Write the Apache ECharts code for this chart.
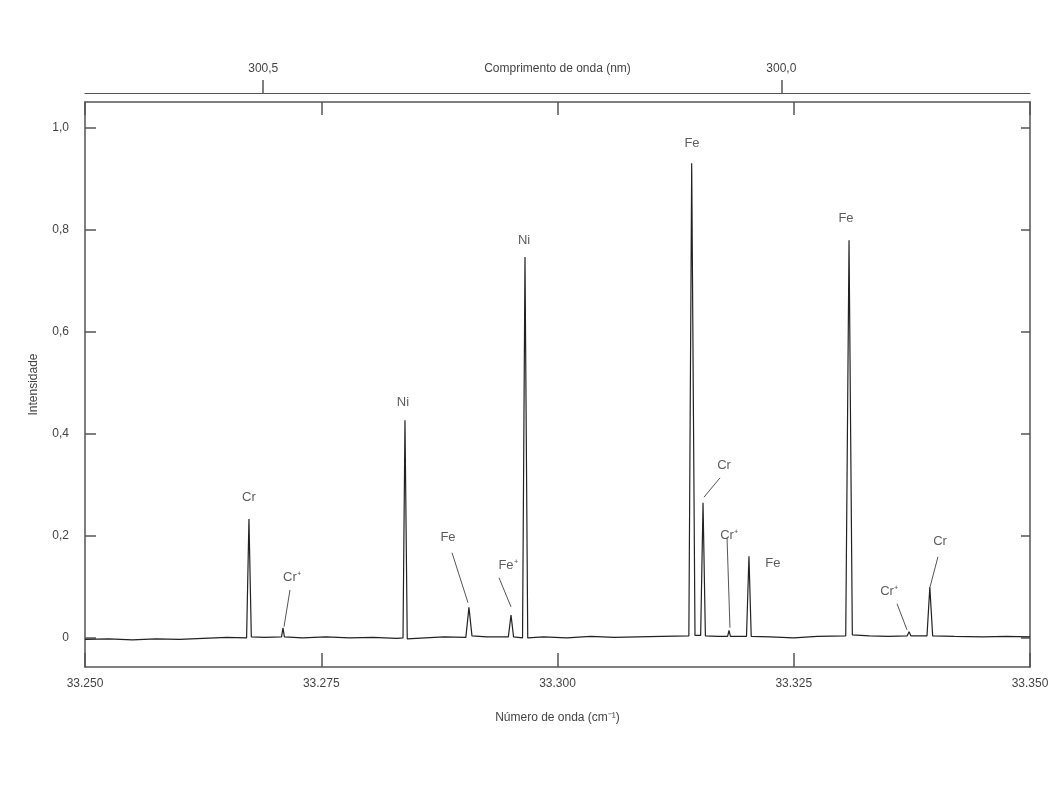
<!DOCTYPE html>
<html>
<head>
<meta charset="utf-8">
<script src="https://cdn.jsdelivr.net/npm/echarts@6/dist/echarts.min.js"></script>
<style>html,body{margin:0;padding:0;background:#fff}#c{width:1064px;height:792px}</style>
</head>
<body>
<div id="c"></div>
<script>
// Spectrum: wavenumber (cm^-1) and relative intensity
const wavenumber = [33250.0,33252.5,33255.0,33257.5,33260.0,33262.5,33265.0,33267.1,33267.35,33267.6,33269.0,33270.8,33270.95,33271.1,33273.0,33275.5,33278.0,33280.5,33283.0,33283.65,33283.86,33284.1,33286.0,33288.0,33290.3,33290.63,33290.95,33292.5,33294.8,33295.08,33295.35,33296.3,33296.56,33296.85,33298.5,33301.0,33303.5,33306.0,33308.5,33311.0,33313.9,33314.2,33314.55,33315.15,33315.4,33315.65,33317.0,33318.0,33318.15,33318.3,33320.0,33320.26,33320.5,33322.5,33325.0,33327.5,33330.5,33330.85,33331.2,33333.0,33335.0,33337.0,33337.2,33337.4,33339.1,33339.4,33339.7,33342.0,33345.0,33347.5,33350.0];
const intensity = [-0.003,-0.002,-0.004,-0.002,-0.003,-0.001,0.001,0.000,0.233,0.002,0.001,0.002,0.020,0.002,0.000,0.002,0.000,0.001,-0.001,0.000,0.427,-0.002,0.000,0.002,0.001,0.060,0.004,0.002,0.002,0.045,0.002,0.000,0.747,0.000,0.002,0.000,0.003,0.001,0.002,0.003,0.004,0.931,0.005,0.005,0.265,0.004,0.003,0.003,0.015,0.003,0.003,0.160,0.003,0.002,0.000,0.003,0.004,0.780,0.006,0.004,0.003,0.004,0.012,0.004,0.004,0.100,0.004,0.003,0.002,0.003,0.002];

// Peak labels: text, wavenumber, intensity
const labelText = ["Cr","Cr⁺","Ni","Fe","Fe⁺","Ni","Fe","Cr","Cr⁺","Fe","Fe","Cr⁺","Cr"];
const labelX = [33267.35,33271.9,33283.65,33288.41,33294.76,33296.46,33314.23,33317.62,33318.15,33322.8,33330.53,33335.08,33340.48];
const labelY = [0.276,0.118,0.461,0.198,0.143,0.78,0.97,0.339,0.202,0.147,0.823,0.092,0.19];

// Leader lines: start (x,y) -> end (x,y)
const leaderX1 = [33271.69,33288.84,33293.81,33317.2,33317.94,33335.93,33340.26];
const leaderY1 = [0.094,0.167,0.118,0.314,0.196,0.067,0.159];
const leaderX2 = [33271.06,33290.53,33295.08,33315.5,33318.25,33336.98,33339.42];
const leaderY2 = [0.022,0.069,0.061,0.276,0.020,0.016,0.100];

const yTicks = [0,0.2,0.4,0.6,0.8,1.0];
const wavelengthTicks = [300.5,300.0];

const FONT = 'Liberation Sans, Arial, sans-serif';
const TXT = '#444';
const AX = '#555';

const spectrum = wavenumber.map((x,i)=>[x,intensity[i]]);
const labels = labelText.map((t,i)=>[labelX[i],labelY[i],t]);
const leaders = leaderX1.map((x,i)=>[{coord:[x,leaderY1[i]]},{coord:[leaderX2[i],leaderY2[i]]}]);

const chart = echarts.init(document.getElementById('c'));
chart.setOption({
  backgroundColor:'#fff',
  animation:false,
  grid:{left:85,right:34,top:102,bottom:125,containLabel:false},
  xAxis:[
    {type:'value',position:'bottom',min:33250,max:33350,interval:25,
     name:'Número de onda (cm⁻¹)',nameLocation:'middle',nameGap:45,nameMoveOverlap:false,
     nameTextStyle:{fontFamily:FONT,fontSize:12,color:TXT},
     axisLine:{show:true,onZero:false,lineStyle:{color:AX,width:1.5}},
     axisTick:{show:true,inside:true,length:14,lineStyle:{color:AX,width:1.5}},
     axisLabel:{margin:11,fontFamily:FONT,fontSize:12,color:TXT,showMinLabel:true,showMaxLabel:true,
       formatter:v=>(v/1000).toFixed(3)},
     splitLine:{show:false}},
    {type:'value',position:'top',min:33250,max:33350,interval:25,
     axisLine:{show:true,onZero:false,lineStyle:{color:AX,width:1.5}},
     axisTick:{show:true,inside:true,length:13,lineStyle:{color:AX,width:1.5}},
     axisLabel:{show:false},splitLine:{show:false}},
    {type:'value',position:'top',offset:9,min:299.760,max:300.672,inverse:true,
     name:'Comprimento de onda (nm)',nameLocation:'middle',nameGap:18,nameMoveOverlap:false,
     nameTextStyle:{fontFamily:FONT,fontSize:12,color:TXT},
     axisLine:{show:true,onZero:false,lineStyle:{color:AX,width:1.2}},
     axisTick:{show:true,inside:false,length:13,customValues:wavelengthTicks,lineStyle:{color:AX,width:1.5}},
     axisLabel:{margin:18,fontFamily:FONT,fontSize:12,color:TXT,customValues:wavelengthTicks,
       formatter:v=>v.toFixed(1).replace('.',',')},
     splitLine:{show:false}}
  ],
  yAxis:[
    {type:'value',position:'left',min:-0.057,max:1.051,
     name:'Intensidade',nameLocation:'middle',nameGap:45,nameRotate:90,nameMoveOverlap:false,
     nameTextStyle:{fontFamily:FONT,fontSize:12,color:TXT},
     axisLine:{show:true,onZero:false,lineStyle:{color:AX,width:1.5}},
     axisTick:{show:true,inside:true,length:11,customValues:yTicks,lineStyle:{color:AX,width:1.5}},
     axisLabel:{margin:16,fontFamily:FONT,fontSize:12,color:TXT,customValues:yTicks,
       formatter:v=>v===0?'0':v.toFixed(1).replace('.',',')},
     splitLine:{show:false}},
    {type:'value',position:'right',min:-0.057,max:1.051,
     axisLine:{show:true,onZero:false,lineStyle:{color:AX,width:1.5}},
     axisTick:{show:true,inside:true,length:9,customValues:yTicks,lineStyle:{color:AX,width:1.5}},
     axisLabel:{show:false},splitLine:{show:false}}
  ],
  series:[
    {type:'line',xAxisIndex:0,yAxisIndex:0,data:spectrum,showSymbol:false,
     lineStyle:{color:'#222',width:1.2},silent:true},
    {type:'scatter',xAxisIndex:0,yAxisIndex:0,data:labels,symbolSize:0,silent:true,
     label:{show:true,position:'inside',formatter:p=>p.data[2],fontFamily:FONT,fontSize:13,color:'#333'},
     markLine:{silent:true,symbol:['none','none'],label:{show:false},
       lineStyle:{color:'#555',width:1,type:'solid'},data:leaders}}
  ]
});
</script>
</body>
</html>
